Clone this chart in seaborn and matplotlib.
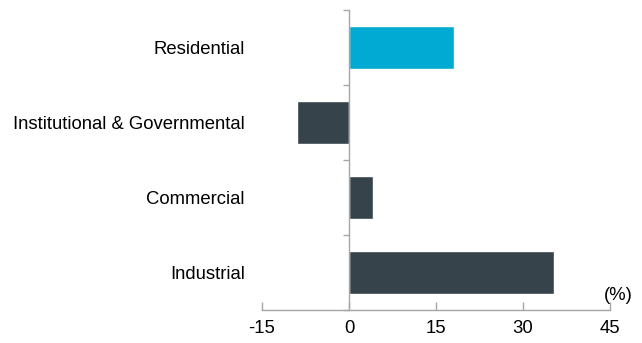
import pandas as pd
import matplotlib.pyplot as plt
import seaborn as sns
from matplotlib.ticker import FixedLocator

sectors = ["Residential", "Institutional & Governmental", "Commercial", "Industrial"]
growth = [18.1, -9.0, 4.1, 35.3]
bar_colors = ["#00AAD2", "#36434B", "#36434B", "#36434B"]
x_ticks = [-15, 0, 15, 30, 45]

df = pd.DataFrame({"Sector": sectors, "Growth": growth})

sns.set_style("white")
plt.rcParams['font.family'] = ['Liberation Sans', 'DejaVu Sans']

fig = plt.figure(figsize=(6.42, 3.43), dpi=100)
ax = fig.add_axes([262 / 642, 1 - 310 / 343, 348 / 642, 300 / 343])

sns.barplot(data=df, x="Growth", y="Sector", hue="Sector", palette=bar_colors,
            orient="h", width=0.57, legend=False, saturation=1, ax=ax)

grey = "#a6a6a6"
ax.set_xlim(-15, 45)
ax.set_ylim(3.5, -0.5)
ax.set_xticks(x_ticks)
ax.set_xticklabels([str(t) for t in x_ticks])
ax.set_xlabel("")
ax.set_ylabel("")

for s in ["top", "right"]:
    ax.spines[s].set_visible(False)
ax.spines["left"].set_position(("data", 0))
ax.spines["left"].set_color(grey)
ax.spines["bottom"].set_color(grey)
ax.spines["left"].set_linewidth(1.0)
ax.spines["bottom"].set_linewidth(1.0)

ax.tick_params(axis="x", bottom=True, direction="in", length=6, width=1, color=grey,
               labelsize=13.3, pad=7, labelcolor="#000000")
ax.tick_params(axis="y", which="major", left=True, length=0, labelsize=13.3, pad=75,
               labelcolor="#000000")
ax.yaxis.set_minor_locator(FixedLocator([-0.5, 0.5, 1.5, 2.5, 3.5]))
ax.tick_params(axis="y", which="minor", left=True, direction="out", length=4, width=1, color=grey)

ax.text(1.065, 0.02, "(%)", transform=ax.transAxes, ha="right", va="bottom",
        fontsize=13.3, color="#000000")

fig.savefig("out.png", dpi=100)
